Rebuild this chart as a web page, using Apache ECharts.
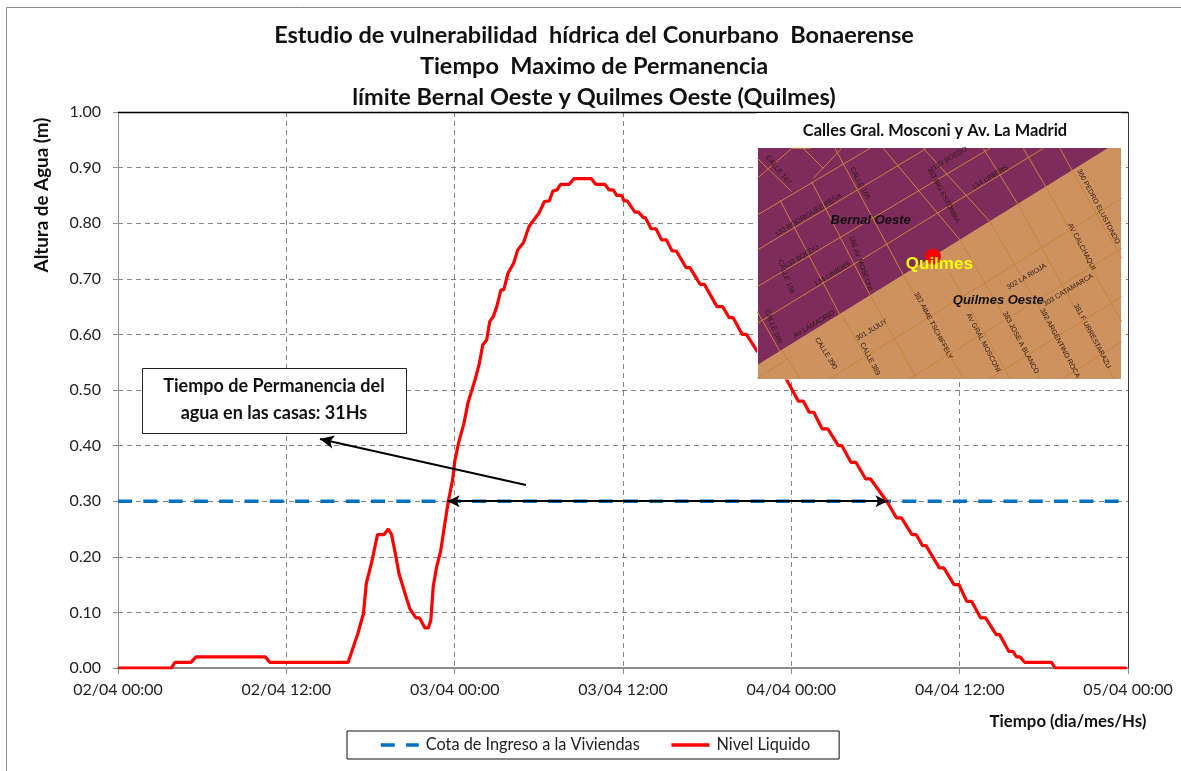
<!DOCTYPE html>
<html><head><meta charset="utf-8">
<style>html,body{margin:0;padding:0;background:#fff}#c{width:1181px;height:771px}</style>
<script src="https://cdn.jsdelivr.net/npm/echarts@6/dist/echarts.min.js"></script>
</head><body><div id="c"></div>
<script>
var titleLines = ['Estudio de vulnerabilidad  hídrica del Conurbano  Bonaerense','Tiempo  Maximo de Permanencia','límite Bernal Oeste y Quilmes Oeste (Quilmes)'];
var timeTickLabels = ['02/04 00:00','02/04 12:00','03/04 00:00','03/04 12:00','04/04 00:00','04/04 12:00','05/04 00:00'];
var seriesCota = 'Cota de Ingreso a la Viviendas';
var seriesNivel = 'Nivel Liquido';
var cotaHours = [0,72];
var cotaValues = [0.30,0.30];
// hours since 02/04 00:00
var nivelHours = [0,3.8,4.06,5.2,5.56,10.5,10.83,16.4,17.1,17.5,17.7,18.08,18.5,18.96,19.27,19.5,19.74,20.03,20.45,20.8,21.24,21.5,21.88,22.12,22.3,22.47,22.7,23.0,23.3,23.55,23.85,24.02,24.3,24.66,24.97,25.45,25.76,26.0,26.28,26.5,26.75,27,27.3,27.5,27.8,28.2,28.5,28.9,29.3,30,30.4,30.75,31,31.3,31.55,32.17,32.5,33.75,34.05,34.7,35,35.3,35.55,35.9,36.07,36.3,36.85,37.1,37.45,37.6,38,38.35,38.75,39.1,39.5,39.8,40.5,40.77,41.5,41.8,42.7,43.1,43.57,43.85,44.5,44.8,45.56,46.0,46.9,47.2,47.8,48.5,48.85,49.27,49.6,50.2,50.6,51.35,51.6,52.25,52.6,53.3,53.65,54.8,55.5,55.85,56.6,56.9,57.35,57.6,58.55,58.87,59.6,59.95,60.5,60.85,61.5,61.85,62.6,62.85,63.5,63.8,64.05,64.3,64.65,66.55,66.8,71.9];
var nivelValues = [0,0,0.01,0.01,0.02,0.02,0.01,0.01,0.062,0.098,0.152,0.19,0.24,0.24,0.25,0.24,0.21,0.17,0.135,0.107,0.09,0.09,0.072,0.072,0.086,0.146,0.18,0.21,0.26,0.30,0.338,0.374,0.407,0.44,0.479,0.518,0.548,0.581,0.59,0.623,0.632,0.65,0.68,0.68,0.71,0.728,0.752,0.765,0.794,0.818,0.839,0.84,0.858,0.86,0.87,0.87,0.88,0.88,0.87,0.87,0.86,0.86,0.85,0.85,0.84,0.84,0.82,0.82,0.81,0.81,0.79,0.79,0.77,0.77,0.75,0.75,0.72,0.72,0.69,0.69,0.65,0.65,0.63,0.63,0.60,0.60,0.57,0.56,0.54,0.54,0.512,0.48,0.48,0.46,0.46,0.43,0.43,0.40,0.40,0.37,0.37,0.34,0.34,0.30,0.27,0.27,0.24,0.24,0.22,0.22,0.18,0.18,0.15,0.15,0.12,0.12,0.09,0.09,0.06,0.06,0.03,0.03,0.02,0.02,0.01,0.01,0,0];
var permanenciaSpan = [[23.5,0.30],[54.85,0.30]];
var pointerArrow = [[29.08,0.329],[14.4,0.412]];

var FONT = 'Lato, Carlito, sans-serif';
var GRID = {left:118,top:112,right:53,bottom:103};

function mx(x){return x/3+750;} function my(y){return y/3+115;}
var PURPLE='#7f2b5b', TAN='#cd9260', ROAD='#c8843a';
var roads=[
 [22,190,125,100],[125,230,22,130],[22,300,360,100],[22,405,530,100],[22,515,720,100],[22,625,880,100],
 [90,710,22,590],[270,600,90,255],[360,540,185,200],[460,480,255,100],[630,375,400,100],[720,320,520,100],[805,270,700,100],[890,220,820,100],[965,165,930,100],
 [180,100,125,100],[160,100,220,160],[275,100,190,190],
 [22,790,130,720],[240,790,1115,250],[480,790,1115,400],[720,790,1115,545],[940,790,1115,680],[360,540,500,790],[460,480,640,790],[565,415,780,790],[630,375,870,790],[720,320,990,790],[805,270,1090,790],[890,220,1115,620],[965,165,1115,430],[95,705,150,790],[275,600,385,790]
];
var labels=[
 ['CALLE 167',85,165,-50],['CALLE 105',330,205,-62],['132 RODRIGUEZ PEÑA',175,300,31],['133 BOEDO',600,130,31],['353 BIG ESTOMBA',580,240,-62],['134 LINIERS',720,187,31],['360 PEDRO ELUSTONDO',1045,275,-62],['AV CALCHAQUI',995,395,-62],
 ['133 BOEDO',155,425,31],['CALLE 108',108,485,-70],['186 AV MOSCONI',332,445,-70],['134 LINIERS',247,477,31],['CALLE 109',70,635,-68],['AV LAMADRID',192,628,31],
 ['CALLE 390',228,715,-58],['CALLE 389',360,732,-62],['301 JUJUY',365,645,31],['387 AIME TSCHIFFELY',550,632,-62],['AV GRAL MOSCONI',700,683,-62],['383 JOSE A BLANCO',812,683,-62],['382 ARGENTINO ROCA',930,685,-62],['381 F URRESTARAZU',1027,663,-62],['302 LA RIOJA',830,485,31],['303 CATAMARCA',955,525,31]
];
var g=[];
g.push({type:'rect',silent:true,z:0,shape:{x:6.5,y:7.5,width:1300,height:900},style:{fill:'none',stroke:'#8a8a8a',lineWidth:1}});
titleLines.forEach(function(t,i){g.push({type:'text',z:5,x:594,y:35.5+i*31,style:{text:t,font:'bold 23.5px '+FONT,fill:'#111',align:'center',verticalAlign:'middle'}});});
g.push({type:'text',z:5,x:42,y:195,rotation:Math.PI/2,style:{text:'Altura de Agua (m)',font:'bold 18.8px '+FONT,fill:'#111',align:'center',verticalAlign:'middle'}});
g.push({type:'text',z:5,x:1068,y:722,style:{text:'Tiempo (dia/mes/Hs)',font:'bold 16.8px '+FONT,fill:'#111',align:'center',verticalAlign:'middle'}});
g.push({type:'rect',z:20,shape:{x:142.5,y:368.5,width:264,height:65},style:{fill:'#fff',stroke:'#222',lineWidth:1}});
g.push({type:'text',z:21,x:274,y:386,style:{text:'Tiempo de Permanencia del',font:'bold 18px '+FONT,fill:'#111',align:'center',verticalAlign:'middle'}});
g.push({type:'text',z:21,x:274,y:413,style:{text:'agua en las casas: 31Hs',font:'bold 18px '+FONT,fill:'#111',align:'center',verticalAlign:'middle'}});
// inset
g.push({type:'rect',z:30,shape:{x:757,y:113,width:364.5,height:266.5},style:{fill:'#fff'}});
g.push({type:'text',z:31,x:935,y:131,style:{text:'Calles Gral. Mosconi y Av. La Madrid',font:'bold 16.4px '+FONT,fill:'#111',align:'center',verticalAlign:'middle'}});
g.push({type:'rect',z:31,shape:{x:758,y:148,width:363,height:231},style:{fill:TAN}});
g.push({type:'polygon',z:32,shape:{points:[[758,148],[1108,148],[758,364.5]]},style:{fill:PURPLE}});
roads.forEach(function(r){g.push({type:'line',z:33,silent:true,shape:{x1:mx(r[0]),y1:my(r[1]),x2:mx(r[2]),y2:my(r[3])},style:{stroke:ROAD,lineWidth:1}});});
labels.forEach(function(l){g.push({type:'text',z:34,x:mx(l[1]),y:my(l[2]),rotation:l[3]*Math.PI/180,style:{text:l[0],font:'7px "Liberation Sans"',fill:'#2b1a14',align:'center',verticalAlign:'middle'}});});
g.push({type:'text',z:35,x:mx(362),y:my(316),style:{text:'Bernal Oeste',font:'italic bold 13px "Liberation Sans"',fill:'#111',align:'center',verticalAlign:'middle'}});
g.push({type:'text',z:35,x:mx(745),y:my(557),style:{text:'Quilmes Oeste',font:'italic bold 13px "Liberation Sans"',fill:'#111',align:'center',verticalAlign:'middle'}});
g.push({type:'circle',z:35,shape:{cx:mx(549),cy:my(425),r:8},style:{fill:'#ff0000'}});
g.push({type:'text',z:36,x:mx(568),y:my(447),style:{text:'Quilmes',font:'bold 17px "Liberation Sans"',fill:'#ffff00',align:'center',verticalAlign:'middle'}});
g.push({type:'line',z:2,shape:{x1:118,y1:112.5,x2:1128,y2:112.5},style:{stroke:'#000',lineWidth:1.5}});
g.push({type:'line',z:2,shape:{x1:1128.5,y1:112,x2:1128.5,y2:668},style:{stroke:'#333',lineWidth:1}});

function pairs(xs,ys){return xs.map(function(x,i){return [x,ys[i]];});}
var option={
 animation:false,backgroundColor:'#fff',
 grid:{left:GRID.left,top:GRID.top,right:GRID.right,bottom:GRID.bottom,show:false},
 legend:{left:347,top:731,itemWidth:38,itemHeight:14,itemGap:30,padding:[6,29,6,32],borderColor:'#111',borderWidth:1,backgroundColor:'#fff',
   itemStyle:{opacity:0},
   textStyle:{fontFamily:FONT,fontSize:16.3,color:'#222',padding:[0,0,0,2]},
   data:[{name:seriesCota,lineStyle:{width:3.5}},{name:seriesNivel,lineStyle:{width:3.5}}]},
 xAxis:{type:'value',min:0,max:72,interval:12,
   axisLine:{show:true,onZero:false,lineStyle:{color:'#8c8c8c',width:2}},
   axisTick:{show:true,length:6,lineStyle:{color:'#8c8c8c'}},
   axisLabel:{margin:14,fontFamily:FONT,fontSize:16,color:'#222',formatter:function(v){return timeTickLabels[v/12];},hideOverlap:false,showMinLabel:true,showMaxLabel:true},
   splitLine:{show:true,lineStyle:{color:'#868686',type:[5,4],width:1}}},
 yAxis:{type:'value',min:0,max:1,interval:0.1,
   axisLine:{show:true,onZero:false,lineStyle:{color:'#8c8c8c',width:1}},
   axisTick:{show:true,length:5,lineStyle:{color:'#8c8c8c'}},
   axisLabel:{margin:17,fontFamily:FONT,fontSize:16,color:'#222',formatter:function(v){return v.toFixed(2);}},
   splitLine:{show:true,lineStyle:{color:'#868686',type:[5,4],width:1}}},
 series:[
  {name:seriesCota,type:'line',symbol:'none',z:3,data:pairs(cotaHours,cotaValues),lineStyle:{color:'#0070c0',width:3.5,type:[14,11.3]},itemStyle:{color:'#0070c0'},
    markLine:{silent:true,z:6,animation:false,symbol:['arrow','arrow'],symbolSize:[9,12],label:{show:false},lineStyle:{color:'#000',width:2,type:'solid'},
      data:[[{coord:permanenciaSpan[0]},{coord:permanenciaSpan[1]}]]}},
  {name:seriesNivel,type:'line',symbol:'none',z:4,data:pairs(nivelHours,nivelValues),lineStyle:{color:'#ff0000',width:3.2},itemStyle:{color:'#ff0000'},
    markLine:{silent:true,z:6,animation:false,symbol:['none','arrow'],symbolSize:[10,14],label:{show:false},lineStyle:{color:'#000',width:2,type:'solid'},
      data:[[{coord:pointerArrow[0]},{coord:pointerArrow[1]}]]}}
 ],
 graphic:g
};
var chart=echarts.init(document.getElementById('c'),null,{renderer:'canvas'});
chart.setOption(option);
</script></body></html>
